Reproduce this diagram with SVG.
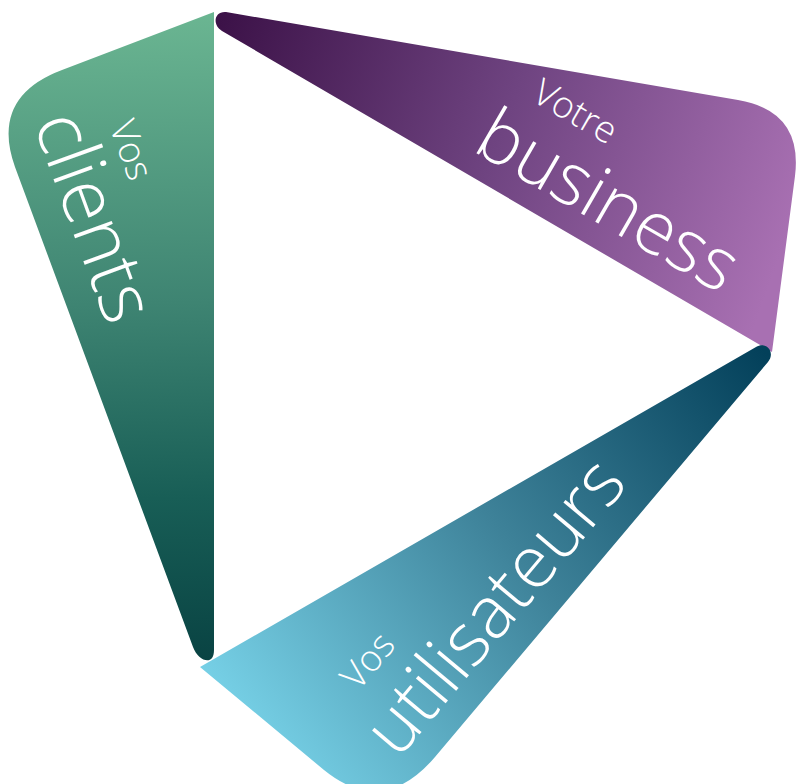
<svg xmlns="http://www.w3.org/2000/svg" width="798" height="784" viewBox="0 0 798 784">
<defs>
<linearGradient id="gGreen" gradientUnits="userSpaceOnUse" x1="100" y1="12" x2="115" y2="662">
<stop offset="0" stop-color="#6bb692"/>
<stop offset="0.45" stop-color="#3e8472"/>
<stop offset="0.75" stop-color="#185e56"/>
<stop offset="1" stop-color="#094343"/>
</linearGradient>
<linearGradient id="gPurple" gradientUnits="userSpaceOnUse" x1="220" y1="20" x2="790" y2="230">
<stop offset="0" stop-color="#3c1248"/>
<stop offset="0.5" stop-color="#6f4481"/>
<stop offset="1" stop-color="#a870b2"/>
</linearGradient>
<linearGradient id="gBlue" gradientUnits="userSpaceOnUse" x1="260" y1="745" x2="765" y2="352">
<stop offset="0" stop-color="#76d0e6"/>
<stop offset="0.5" stop-color="#3e8299"/>
<stop offset="1" stop-color="#03405a"/>
</linearGradient>
</defs>
<style>
text { fill: #ffffff; font-family: "Open Sans", "Liberation Sans", sans-serif; font-weight: 300; }
.big { font-size: 73px; }
.small { font-size: 37px; }
</style>
<rect width="798" height="784" fill="#ffffff"/>
<g id="clients">
<path d="M214,12 L62,70 Q-10,97 15,167 L193,647 C198,661 214,667 214,650 Z" fill="url(#gGreen)"/>
<text class="small" transform="translate(109,126) rotate(70)">Vos</text>
<text class="big" transform="translate(33,123) rotate(70)" style="font-size:76px">clients</text>
</g>
<g id="business">
<path d="M226,12 L738,100 Q803,111 795,176 L772,352 L222,31 C212,25 214,11 226,12 Z" fill="url(#gPurple)"/>
<text class="small" transform="translate(530,100) rotate(30)">Votre</text>
<text class="big" transform="translate(471,150) rotate(30)">business</text>
</g>
<g id="utilisateurs">
<path d="M200,667 L756,347 C766,341 776,352 768,362 L435,757 Q383,818 324,770 Z" fill="url(#gBlue)"/>
<text class="small" transform="translate(358,692) rotate(-50)">Vos</text>
<text class="big" transform="translate(398,760) rotate(-50)">utilisateurs</text>
</g>
<g id="connectors"/>
</svg>
